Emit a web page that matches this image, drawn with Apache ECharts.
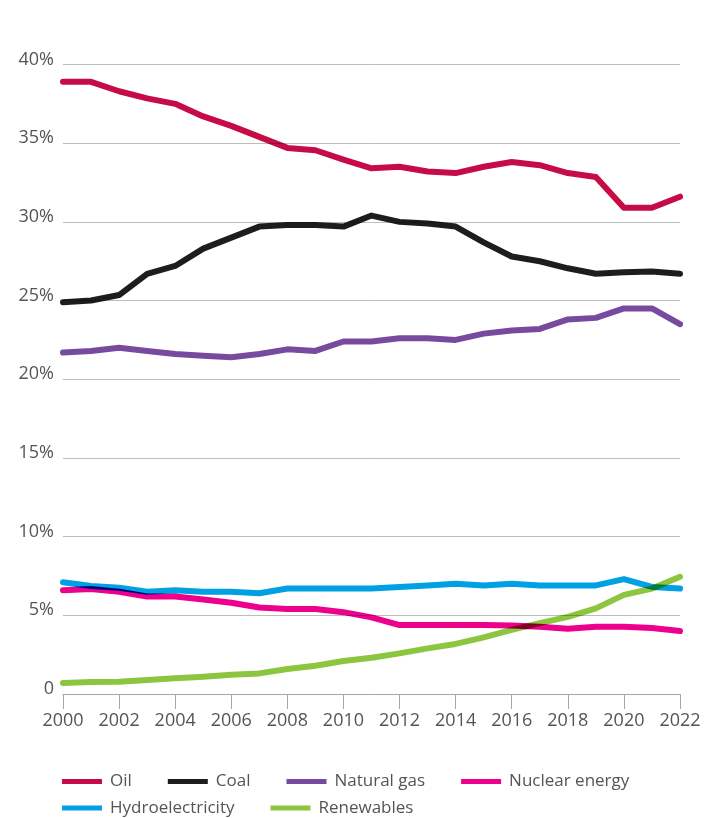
<!DOCTYPE html>
<html>
<head>
<meta charset="utf-8">
<script src="https://cdn.jsdelivr.net/npm/echarts@6/dist/echarts.min.js"></script>
<style>
html,body{margin:0;padding:0;background:#fff;}
#chart{width:718px;height:818px;}
</style>
</head>
<body>
<div id="chart"></div>
<script>
const years = ['2000','2001','2002','2003','2004','2005','2006','2007','2008','2009','2010','2011','2012','2013','2014','2015','2016','2017','2018','2019','2020','2021','2022'];
const oil = [38.9, 38.9, 38.3, 37.85, 37.5, 36.7, 36.1, 35.4, 34.7, 34.55, 33.95, 33.4, 33.5, 33.2, 33.1, 33.5, 33.8, 33.6, 33.1, 32.85, 30.9, 30.9, 31.6];
const coal = [24.9, 25.0, 25.35, 26.7, 27.2, 28.3, 29.0, 29.7, 29.8, 29.8, 29.7, 30.4, 30.0, 29.9, 29.7, 28.7, 27.8, 27.5, 27.05, 26.7, 26.8, 26.85, 26.7];
const naturalGas = [21.7, 21.8, 22.0, 21.8, 21.6, 21.5, 21.4, 21.6, 21.9, 21.8, 22.4, 22.4, 22.6, 22.6, 22.5, 22.9, 23.1, 23.2, 23.8, 23.9, 24.5, 24.5, 23.5];
const nuclear = [6.6, 6.67, 6.5, 6.2, 6.2, 6.0, 5.8, 5.5, 5.4, 5.4, 5.2, 4.87, 4.38, 4.38, 4.38, 4.38, 4.35, 4.28, 4.15, 4.28, 4.28, 4.2, 4.0];
const hydro = [7.1, 6.86, 6.75, 6.5, 6.6, 6.5, 6.5, 6.4, 6.7, 6.7, 6.7, 6.7, 6.8, 6.9, 7.0, 6.9, 7.0, 6.9, 6.9, 6.9, 7.3, 6.8, 6.7];
const renewables = [0.7, 0.76, 0.78, 0.89, 1.0, 1.1, 1.23, 1.31, 1.59, 1.8, 2.1, 2.3, 2.58, 2.9, 3.18, 3.6, 4.07, 4.5, 4.9, 5.44, 6.3, 6.7, 7.45];

const seriesNames = ['Oil','Coal','Natural gas','Nuclear energy','Hydroelectricity','Renewables'];
const seriesData = [oil, coal, naturalGas, nuclear, hydro, renewables];
const colors = ['#c60c46','#1d1d1b','#774a9f','#ec008c','#00a0e3','#8cc63f'];

const FONT = "'Open Sans', 'Noto Sans', sans-serif";
const chart = echarts.init(document.getElementById('chart'), null, {renderer:'canvas'});

const legendCommon = {
  left: 62,
  orient: 'horizontal',
  icon: 'rect',
  itemWidth: 40,
  itemHeight: 5,
  itemGap: 36,
  padding: 0,
  textStyle: {fontFamily: FONT, fontSize: 17, color: '#555', padding: [0,0,0,3]}
};

chart.setOption({
  animation: false,
  color: colors,
  grid: {left: 63, right: 38, top: 64.5, bottom: 124, containLabel: false},
  legend: [
    Object.assign({top: 773, data: seriesNames.slice(0,4)}, legendCommon),
    Object.assign({top: 799.5, data: seriesNames.slice(4)}, legendCommon)
  ],
  xAxis: {
    type: 'category',
    data: years,
    boundaryGap: false,
    axisLine: {show: true, lineStyle: {color: '#a6a6a6', width: 1}},
    axisTick: {show: true, interval: 1, length: 15, lineStyle: {color: '#a6a6a6'}},
    axisLabel: {interval: 1, margin: 18, fontFamily: FONT, fontSize: 18, color: '#555', lineHeight: 18},
    splitLine: {show: false}
  },
  yAxis: {
    type: 'value',
    min: 0,
    max: 40,
    interval: 5,
    axisLine: {show: false},
    axisTick: {show: false},
    axisLabel: {
      margin: 9,
      fontFamily: FONT, fontSize: 18, color: '#555',
      verticalAlign: 'bottom',
      lineHeight: 10,
      formatter: function(v){ return v === 0 ? '0' : v + '%'; }
    },
    splitLine: {show: true, lineStyle: {color: '#bdbdbd', width: 1}}
  },
  series: seriesNames.map(function(name, i){
    return {
      name: name,
      type: 'line',
      data: seriesData[i],
      showSymbol: false,
      symbol: 'none',
      blendMode: 'multiply',
      lineStyle: {width: 6, color: colors[i], cap: 'round', join: 'round'},
      itemStyle: {color: colors[i]},
      emphasis: {disabled: true}
    };
  })
});
</script>
</body>
</html>
